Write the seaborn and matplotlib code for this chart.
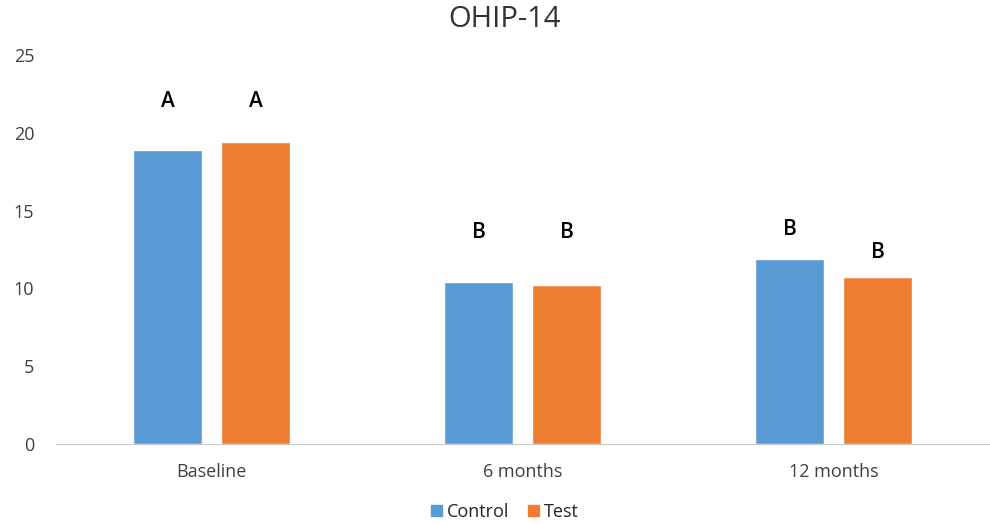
import pandas as pd
import seaborn as sns
import matplotlib.pyplot as plt

# values
timepoints = ["Baseline", "6 months", "12 months"]
groups = ["Control", "Test"]
control_vals = [18.9, 10.4, 11.9]
test_vals = [19.4, 10.2, 10.7]
control_letters = ["A", "B", "B"]
test_letters = ["A", "B", "B"]
control_label_y = [22.0, 13.6, 13.8]
test_label_y = [22.0, 13.6, 12.3]

colors = {"Control": "#5B9BD5", "Test": "#ED7D31"}

df = pd.DataFrame({
    "time": timepoints * 2,
    "group": ["Control"] * 3 + ["Test"] * 3,
    "score": control_vals + test_vals,
})

sns.set_style("white")
plt.rcParams["font.family"] = ["Open Sans", "DejaVu Sans"]

fig = plt.figure(figsize=(9.9, 5.24), dpi=100)
ax = fig.add_axes([0.057, 0.153, 0.942, 0.742])

sns.barplot(data=df, x="time", y="score", hue="group", order=timepoints,
            hue_order=groups, palette=colors, width=0.566, gap=0.215,
            saturation=1, errorbar=None, ax=ax)

# significance letters above the bars
offset = 0.566 / 4
for i in range(len(timepoints)):
    ax.text(i - offset, control_label_y[i], control_letters[i], ha="center",
            va="center", fontsize=15, fontweight="semibold", color="black")
    ax.text(i + offset, test_label_y[i], test_letters[i], ha="center",
            va="center", fontsize=15, fontweight="semibold", color="black")

ax.set_ylim(0, 25)
ax.set_xlim(-0.5, 2.5)
ax.set_yticks([0, 5, 10, 15, 20, 25])
ax.set_xlabel("")
ax.set_ylabel("")
ax.tick_params(axis="both", labelsize=13, colors="#404040", length=0)
ax.tick_params(axis="y", pad=16)
ax.tick_params(axis="x", pad=14)
for s in ["left", "right", "top"]:
    ax.spines[s].set_visible(False)
ax.spines["bottom"].set_color("#c8c8c8")

fig.suptitle("OHIP-14", x=0.51, y=0.99, fontsize=21, color="#333333")

ax.legend_.remove()
handles = [plt.Rectangle((0, 0), 1, 1, color=colors[g]) for g in groups]
fig.legend(handles, groups, loc="lower center", bbox_to_anchor=(0.51, -0.025),
           ncol=2, frameon=False, fontsize=13, handlelength=0.6,
           handleheight=0.6, handletextpad=0.3, columnspacing=1.0)

plt.savefig("out.png", dpi=100)
